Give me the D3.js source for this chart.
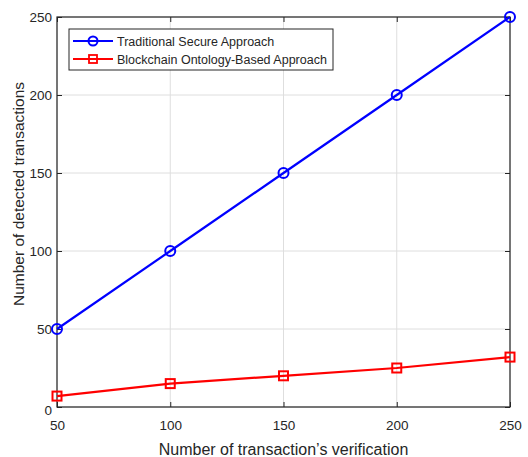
<!DOCTYPE html>
<html>
<head>
<meta charset="utf-8">
<script src="https://cdn.jsdelivr.net/npm/d3@7"></script>
<style>
  body { margin: 0; background: #fff; }
  svg { display: block; font-family: "Liberation Sans", Arial, sans-serif; }
</style>
</head>
<body>
<svg id="chart" width="528" height="457"></svg>
<script>
// data
const xValues     = [50, 100, 150, 200, 250];
const traditional = [50, 100, 150, 200, 250];
const blockchain  = [7, 15, 20, 25, 32];
const xTicks      = [50, 100, 150, 200, 250];
const yTicks      = [0, 50, 100, 150, 200, 250];
const seriesNames = ['Traditional Secure Approach', 'Blockchain Ontology-Based Approach'];

const W = 528, H = 457;
const m = { left: 57, right: 18, top: 17, bottom: 50 };
const svg = d3.select('#chart');

const x = d3.scaleLinear().domain([50, 250]).range([m.left, W - m.right]);
const y = d3.scaleLinear().domain([0, 250]).range([H - m.bottom, m.top]);

const axisCol = '#262626';

/* ── grid ─────────────────────────────── */
const grid = svg.append('g');
grid.selectAll('.gx').data(xTicks).enter().append('line')
  .attr('x1', d => x(d)).attr('x2', d => x(d))
  .attr('y1', y(0)).attr('y2', y(250))
  .attr('stroke', '#dedede').attr('stroke-width', 1);
grid.selectAll('.gy').data(yTicks).enter().append('line')
  .attr('y1', d => y(d)).attr('y2', d => y(d))
  .attr('x1', x(50)).attr('x2', x(250))
  .attr('stroke', '#dedede').attr('stroke-width', 1);

/* ── axes (ticks inward, box on) ──────── */
const tick = 5;
svg.append('g').attr('transform', `translate(0,${y(0)})`)
  .call(d3.axisBottom(x).tickValues(xTicks).tickSize(-tick).tickPadding(13))
  .call(g => g.select('.domain').remove());
svg.append('g').attr('transform', `translate(0,${y(250)})`)
  .call(d3.axisTop(x).tickValues(xTicks).tickSize(-tick).tickFormat(''))
  .call(g => g.select('.domain').remove());
svg.append('g').attr('class', 'yaxis').attr('transform', `translate(${x(50)},0)`)
  .call(d3.axisLeft(y).tickValues(yTicks).tickSize(-tick).tickPadding(5))
  .call(g => g.select('.domain').remove());
svg.append('g').attr('transform', `translate(${x(250)},0)`)
  .call(d3.axisRight(y).tickValues(yTicks).tickSize(-tick).tickFormat(''))
  .call(g => g.select('.domain').remove());

svg.selectAll('.tick line').attr('stroke', axisCol);
svg.selectAll('.tick text').attr('fill', axisCol).attr('font-size', 13.5)
  .attr('font-family', '"Liberation Sans", Arial, sans-serif');
// MATLAB pushes the bottom "0" label slightly down
svg.selectAll('.yaxis .tick text').filter(d => d === 0).attr('dy', '0.55em');

svg.append('rect')
  .attr('x', x(50)).attr('y', y(250))
  .attr('width', x(250) - x(50)).attr('height', y(0) - y(250))
  .attr('fill', 'none').attr('stroke', axisCol).attr('stroke-width', 1.2);

/* ── lines + markers ──────────────────── */
const line = d3.line().x((d, i) => x(xValues[i])).y(d => y(d));

svg.append('path').datum(traditional).attr('d', line)
  .attr('fill', 'none').attr('stroke', '#0000ff').attr('stroke-width', 2.2);
svg.selectAll('.mc').data(traditional).enter().append('circle')
  .attr('cx', (d, i) => x(xValues[i])).attr('cy', d => y(d)).attr('r', 5)
  .attr('fill', 'none').attr('stroke', '#0000ff').attr('stroke-width', 2);

svg.append('path').datum(blockchain).attr('d', line)
  .attr('fill', 'none').attr('stroke', '#ff0000').attr('stroke-width', 2.2);
svg.selectAll('.ms').data(blockchain).enter().append('rect')
  .attr('x', (d, i) => x(xValues[i]) - 4.5).attr('y', d => y(d) - 4.5)
  .attr('width', 9).attr('height', 9)
  .attr('fill', 'none').attr('stroke', '#ff0000').attr('stroke-width', 2);

/* ── axis labels ──────────────────────── */
svg.append('text').attr('x', (x(50) + x(250)) / 2).attr('y', 455)
  .attr('text-anchor', 'middle').attr('font-size', 16).attr('fill', axisCol)
  .text('Number of transaction\u2019s verification');
svg.append('text')
  .attr('transform', 'translate(24,194) rotate(-90)')
  .attr('text-anchor', 'middle').attr('font-size', 15.5).attr('fill', axisCol)
  .text('Number of detected transactions');

/* ── legend ───────────────────────────── */
const lg = svg.append('g').attr('transform', 'translate(69,29)');
lg.append('rect').attr('width', 264).attr('height', 41)
  .attr('fill', '#fff').attr('stroke', axisCol).attr('stroke-width', 1);
const colors = ['#0000ff', '#ff0000'];
seriesNames.forEach((name, i) => {
  const cy = 12 + i * 18;
  lg.append('line').attr('x1', 4).attr('x2', 44).attr('y1', cy).attr('y2', cy)
    .attr('stroke', colors[i]).attr('stroke-width', 2.2);
  if (i === 0) {
    lg.append('circle').attr('cx', 24).attr('cy', cy).attr('r', 4.5)
      .attr('fill', 'none').attr('stroke', colors[i]).attr('stroke-width', 2);
  } else {
    lg.append('rect').attr('x', 20).attr('y', cy - 4).attr('width', 8).attr('height', 8)
      .attr('fill', 'none').attr('stroke', colors[i]).attr('stroke-width', 1.8);
  }
  lg.append('text').attr('x', 48).attr('y', cy + 4.5)
    .attr('font-size', 12.5).attr('fill', axisCol).text(name);
});
</script>
</body>
</html>
